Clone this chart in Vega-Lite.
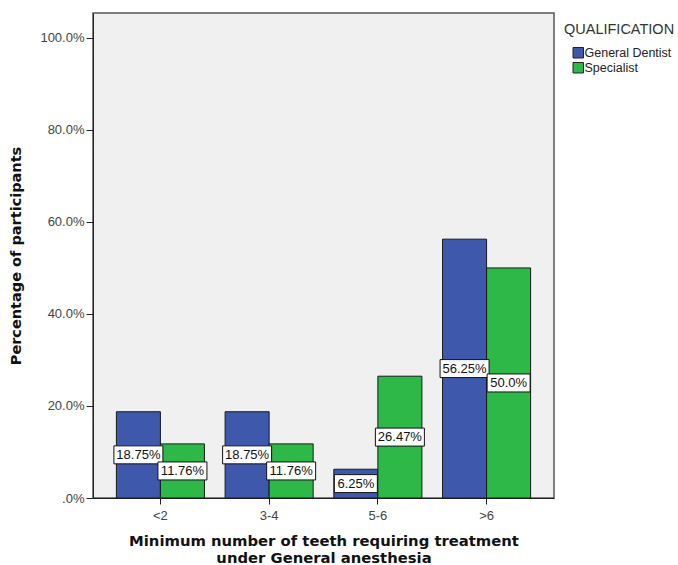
{
  "$schema": "https://vega.github.io/schema/vega-lite/v6.json",
  "width": 461,
  "height": 485,
  "padding": {"left": 8, "top": 13, "right": 5, "bottom": 5},
  "background": "white",
  "config": {
    "font": "Liberation Sans",
    "view": {"fill": "#f0f0f0", "stroke": "#555555", "strokeWidth": 1.5},
    "axis": {"grid": false, "domainColor": "#222222", "tickColor": "#222222", "labelColor": "#444444", "labelFontSize": 13, "titleFont": "DejaVu Sans", "titleFontSize": 14.5, "titleFontWeight": "bold", "titleColor": "#111111"}
  },
  "data": {
    "values": [
      {"group": "<2", "qual": "General Dentist", "value": 18.75},
      {"group": "<2", "qual": "Specialist", "value": 11.76},
      {"group": "3-4", "qual": "General Dentist", "value": 18.75},
      {"group": "3-4", "qual": "Specialist", "value": 11.76},
      {"group": "5-6", "qual": "General Dentist", "value": 6.25},
      {"group": "5-6", "qual": "Specialist", "value": 26.47},
      {"group": ">6", "qual": "General Dentist", "value": 56.25},
      {"group": ">6", "qual": "Specialist", "value": 50.0}
    ]
  },
  "transform": [
    {"calculate": "(datum.value % 1 == 0 ? format(datum.value, '.1f') : format(datum.value, '.2f')) + '%'", "as": "label"},
    {"calculate": "max(datum.value / 2, 2.1)", "as": "mid"},
    {"calculate": "'w' + length(datum.label)", "as": "boxw"}
  ],
  "encoding": {
    "x": {
      "field": "group",
      "type": "nominal",
      "sort": ["<2", "3-4", "5-6", ">6"],
      "scale": {"paddingInner": 0.19, "paddingOuter": 0.215},
      "axis": {
        "title": ["Minimum number of teeth requiring treatment", "under General anesthesia"],
        "titleFontSize": 14.8,
        "labelAngle": 0,
        "labelPadding": 5,
        "tickSize": 6,
        "titlePadding": 11,
        "titleLineHeight": 17
      }
    },
    "xOffset": {"field": "qual", "type": "nominal", "sort": ["General Dentist", "Specialist"], "scale": {"paddingInner": 0, "paddingOuter": 0}}
  },
  "layer": [
    {
      "mark": {"type": "bar", "stroke": "#1a1a1a", "strokeWidth": 1},
      "encoding": {
        "y": {
          "field": "value",
          "type": "quantitative",
          "scale": {"domain": [0, 105.4], "nice": false},
          "axis": {
            "title": "Percentage of participants",
            "values": [0, 20, 40, 60, 80, 100],
            "labelExpr": "datum.value == 0 ? '.0%' : format(datum.value, '.1f') + '%'",
            "tickSize": 7,
            "labelPadding": 2,
            "titlePadding": 16
          }
        },
        "color": {
          "field": "qual",
          "type": "nominal",
          "scale": {"domain": ["General Dentist", "Specialist"], "range": ["#3e58ac", "#2eb848"]},
          "legend": {
            "title": "QUALIFICATION",
            "orient": "none",
            "legendX": 471,
            "legendY": 10,
            "titleFontSize": 14.5,
            "titleFontWeight": "normal",
            "titleColor": "#333333",
            "titlePadding": 9,
            "labelFontSize": 12.5,
            "labelColor": "#222222",
            "labelOffset": 0,
            "symbolType": "square",
            "symbolSize": 110,
            "symbolOffset": 8,
            "symbolStrokeColor": "#222222",
            "symbolStrokeWidth": 1,
            "rowPadding": 0
          }
        }
      }
    },
    {
      "mark": {"type": "point", "filled": true, "fill": "white", "stroke": "#111111", "strokeWidth": 1, "size": 2500, "opacity": 1},
      "encoding": {
        "y": {"field": "mid", "type": "quantitative"},
        "shape": {
          "field": "boxw",
          "type": "nominal",
          "scale": {"domain": ["w5", "w6"], "range": ["M-0.86,-0.36H0.86V0.36H-0.86Z", "M-0.98,-0.36H0.98V0.36H-0.98Z"]},
          "legend": null
        }
      }
    },
    {
      "mark": {"type": "text", "fontSize": 13, "color": "#111111", "baseline": "middle", "align": "center"},
      "encoding": {
        "y": {"field": "mid", "type": "quantitative"},
        "text": {"field": "label"}
      }
    }
  ]
}
